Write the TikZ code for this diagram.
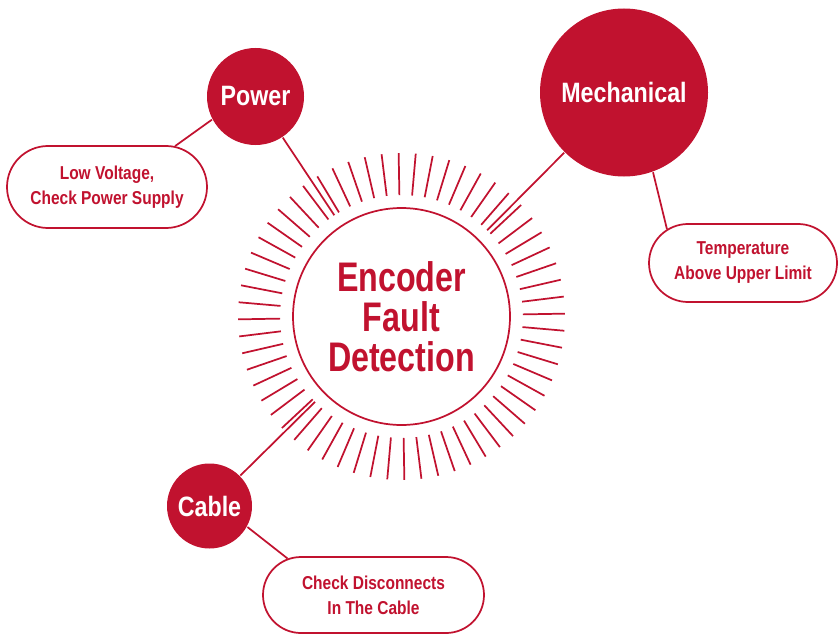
\documentclass[tikz,border=0pt]{standalone}
\usepackage{fontspec}
\usetikzlibrary{shapes.misc}
\newfontfamily\condfont{Liberation Sans}[FakeStretch=0.78]
\newfontfamily\widefont{Liberation Sans}[FakeStretch=0.83]
\definecolor{encred}{RGB}{193,18,47}

\begin{document}
\begin{tikzpicture}[x = 0.75pt, y = -0.75pt, line width = 1.3pt,
                        hub/.style = {circle, draw = encred, text = encred, align = center, inner sep = 0pt,
                                      font = \condfont\bfseries\fontsize{31}{30}\selectfont},
                        topic/.style = {circle, fill = encred, text = white, inner sep = 0pt,
                                        font = \widefont\bfseries\fontsize{21}{24}\selectfont},
                        fault/.style = {rounded rectangle, draw = encred, fill = white, text = encred, align = center,
                                        inner sep = 0pt, font = \widefont\bfseries\fontsize{14}{18.75}\selectfont},
                        link/.style = {draw = encred},
                        ray/.style = {draw = encred}]
    \useasboundingbox (0, 0) rectangle (838, 635);
    \node [hub, minimum size = 162.75pt] (enc) at (401.5, 316.5){Encoder\\Fault\\Detection};
    \node [topic, minimum size = 72.75pt] (power) at (255.5, 96.5){Power};
    \node [topic, minimum size = 126pt] (mech) at (624, 92.5){Mechanical};
    \node [topic, minimum size = 63.75pt] (cable) at (209.5, 506){Cable};
    \node [fault, minimum width = 150pt, minimum height = 61.5pt] (lowv) at (107, 187){Low Voltage,\\Check Power Supply};
    \node [fault, minimum width = 141pt, minimum height = 58.5pt] (temp) at (743, 263){Temperature\\Above Upper Limit};
    \node [fault, minimum width = 165.75pt, minimum height = 57pt] (disc) at (373.5, 595){Check Disconnects\\In The Cable};
    % rays round the hub
    \foreach \a in {1, 7, ..., 355}
        \draw [ray] ([shift = {(\a:91.1pt)}]enc.center) -- ([shift = {(\a:122.6pt)}]enc.center);
    \draw [link, shorten > = 9.1pt] (power) -- (enc);
    \draw [link, shorten > = 9.1pt] (mech) -- (enc);
    \draw [link, shorten > = 9.1pt] (cable) -- (enc);
    \draw [link] (power.208) -- (lowv.31);
    \draw [link] (mech.-70) -- (temp.156);
    \draw [link] (cable.-29) -- (disc.157);
  \end{tikzpicture}
\end{document}
